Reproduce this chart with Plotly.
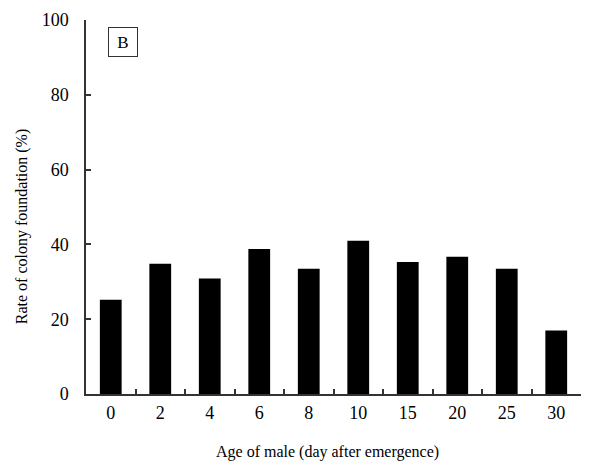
import plotly.graph_objects as go

# Age of male (days after emergence) and colony foundation rate (%)
ages = ["0", "2", "4", "6", "8", "10", "15", "20", "25", "30"]
rates = [25.2, 34.8, 30.9, 38.8, 33.5, 41.0, 35.3, 36.7, 33.5, 17.0]

y_ticks = [0, 20, 40, 60, 80, 100]

W, H = 591, 464
ml, mr, mt, mb = 86, 10, 15, 70
pw, ph = W - ml - mr, H - mt - mb

def px_x(x):
    return (x - ml) / pw

def px_y(y):
    return (H - mb - y) / ph

font_family = "Liberation Serif"
axis_col = "#333333"

fig = go.Figure(
    go.Bar(x=ages, y=rates, marker=dict(color="black", line=dict(width=0)))
)

fig.update_layout(
    width=W, height=H, autosize=False,
    margin=dict(l=ml, r=mr, t=mt, b=mb),
    paper_bgcolor="white", plot_bgcolor="white",
    bargap=0.56, showlegend=False,
    font=dict(family=font_family, size=17, color="black"),
)

tick_font = dict(family=font_family, size=18, color="black")

fig.update_xaxes(
    type="category", showline=True, linecolor=axis_col, linewidth=1.5,
    ticks="inside", tickson="boundaries", ticklen=5, tickwidth=1.5,
    tickcolor=axis_col, showgrid=False, zeroline=False,
    tickfont=tick_font, ticklabelstandoff=2,
)
fig.update_yaxes(
    range=[0, 100], tickvals=y_ticks, showline=True, linecolor=axis_col,
    linewidth=1.5, ticks="inside", ticklen=5, tickwidth=1.5,
    tickcolor=axis_col, showgrid=False, zeroline=False,
    tickfont=tick_font, ticklabelstandoff=12,
)

fig.add_annotation(
    text="Age of male (day after emergence)", xref="paper", yref="paper",
    x=px_x(327), y=px_y(453), showarrow=False,
    font=dict(family=font_family, size=16, color="black"),
    xanchor="center", yanchor="middle",
)
fig.add_annotation(
    text="Rate of colony foundation (%)", xref="paper", yref="paper",
    x=px_x(22), y=px_y(224), showarrow=False,
    font=dict(family=font_family, size=16, color="black"),
    textangle=-90, xanchor="center", yanchor="middle",
)
fig.add_annotation(
    text="B", xref="paper", yref="paper",
    x=px_x(123), y=px_y(37), showarrow=False,
    font=dict(family=font_family, size=17, color="black"),
    xanchor="center", yanchor="middle",
    bordercolor=axis_col, borderwidth=1, borderpad=5,
    width=18, height=18,
)

fig.write_html("out.html")
